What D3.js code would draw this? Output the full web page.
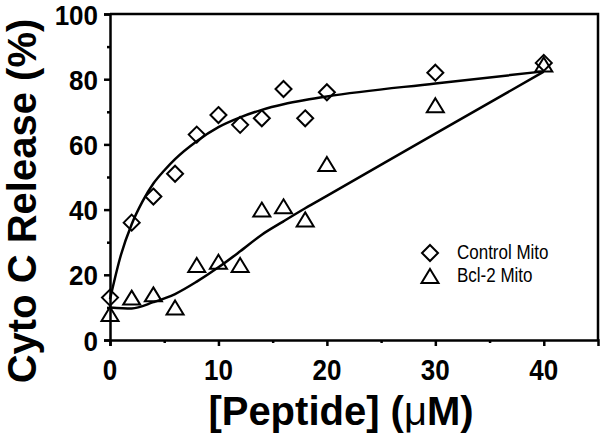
<!DOCTYPE html>
<html><head><meta charset="utf-8">
<script src="https://cdn.jsdelivr.net/npm/d3@7"></script>
<style>body{margin:0;background:#fff}</style>
</head><body>
<svg id="c" width="600" height="439"></svg>
<script>
// Data
const concentrations = [0, 2, 4, 6, 8, 10, 12, 14, 16, 18, 20, 30, 40];
const controlRelease = [13, 36, 44, 51, 63, 69, 66, 68, 77, 68, 76, 82, 85];
const bcl2Release = [8, 13, 14, 10, 23, 24, 23, 40, 41, 37, 54, 72, 84.5];
const controlFitX = [0, 1, 2, 3, 4, 5, 6, 8, 10, 12, 14, 16, 18, 20, 30, 40];
const controlFitY = [12.5, 26, 35.5, 42.5, 48, 52, 55.5, 61, 65.3, 68.3, 70.6, 72.3, 73.6, 74.7, 78.7, 82.4];
const bcl2FitX = [0, 2, 4, 6, 8, 10, 12, 14, 16, 18, 20, 30, 40];
const bcl2FitY = [10, 9.7, 11.6, 14.1, 17.9, 22.3, 27.2, 32.3, 36.4, 40.4, 44.2, 63.3, 82.3];
const xTicks = [0, 10, 20, 30, 40];
const xMinor = [5, 15, 25, 35];
const yTicks = [0, 20, 40, 60, 80, 100];
const yMinor = [10, 30, 50, 70, 90];
const seriesNames = ["Control Mito", "Bcl-2 Mito"];

const svg = d3.select("#c");
const x = d3.scaleLinear().domain([0, 45]).range([110, 598]);
const y = d3.scaleLinear().domain([0, 100]).range([340, 14]);
const bold = "'Liberation Sans', Arial, sans-serif";

// frame
svg.append("path")
  .attr("d", `M${x(0)},${y(100)}H${x(45)}V${y(0)}`)
  .attr("fill", "none").attr("stroke", "#000").attr("stroke-width", 2.5);

// axes
const xAxis = svg.append("g").attr("transform", `translate(0,${y(0)})`)
  .call(d3.axisBottom(x).tickValues(xTicks).tickSize(6).tickFormat(""));
const xAxisMinor = svg.append("g").attr("transform", `translate(0,${y(0)})`)
  .call(d3.axisBottom(x).tickValues(xMinor).tickSize(3).tickFormat(""));
const yAxis = svg.append("g").attr("transform", `translate(${x(0)},0)`)
  .call(d3.axisLeft(y).tickValues(yTicks).tickSize(6).tickFormat(""));
const yAxisMinor = svg.append("g").attr("transform", `translate(${x(0)},0)`)
  .call(d3.axisLeft(y).tickValues(yMinor).tickSize(3).tickFormat(""));
[xAxis, xAxisMinor, yAxis, yAxisMinor].forEach(g => {
  g.selectAll("path.domain").attr("stroke", "#000").attr("stroke-width", 2.5);
  g.selectAll(".tick line").attr("stroke", "#000").attr("stroke-width", 2.5);
});
xAxisMinor.select("path.domain").remove();
yAxisMinor.select("path.domain").remove();

// tick labels (stretched bold)
xTicks.forEach(v => {
  svg.append("text")
    .attr("transform", `translate(${x(v)},${y(0) + 40}) scale(1,1.1)`)
    .attr("text-anchor", "middle")
    .attr("font-family", bold).attr("font-weight", "bold").attr("font-size", 26)
    .text(v);
});
yTicks.forEach(v => {
  svg.append("text")
    .attr("transform", `translate(${x(0) - 12},${y(v) + 10.5}) scale(1,1.06)`)
    .attr("text-anchor", "end")
    .attr("font-family", bold).attr("font-weight", "bold").attr("font-size", 26)
    .text(v);
});

// axis titles
svg.append("text")
  .attr("x", 341).attr("y", 425)
  .attr("text-anchor", "middle")
  .attr("font-family", bold).attr("font-weight", "bold").attr("font-size", 40)
  .html("[Peptide] (<tspan font-weight='normal'>μ</tspan>M)");
svg.append("text")
  .attr("transform", `translate(36,201) rotate(-90)`)
  .attr("text-anchor", "middle")
  .attr("font-family", bold).attr("font-weight", "bold").attr("font-size", 40)
  .text("Cyto C Release (%)");

// fit curves
const line = d3.line().x(d => x(d[0])).y(d => y(d[1])).curve(d3.curveMonotoneX);
svg.append("path").datum(d3.zip(controlFitX, controlFitY))
  .attr("d", line).attr("fill", "none").attr("stroke", "#000").attr("stroke-width", 2.5);
svg.append("path").datum(d3.zip(bcl2FitX, bcl2FitY))
  .attr("d", line).attr("fill", "none").attr("stroke", "#000").attr("stroke-width", 2.5);

// markers
const diamond = "M0,-8L8,0L0,8L-8,0Z";
const triangle = "M0,-7L8.5,7L-8.5,7Z";
function markers(vals, shape) {
  svg.append("g").selectAll("path").data(d3.zip(concentrations, vals)).join("path")
    .attr("transform", d => `translate(${x(d[0])},${y(d[1])})`)
    .attr("d", shape).attr("fill", "none").attr("stroke", "#000").attr("stroke-width", 2)
    .attr("stroke-linejoin", "miter");
}
markers(controlRelease, diamond);
markers(bcl2Release, triangle);

// legend
const leg = [[diamond, seriesNames[0], 253], [triangle, seriesNames[1], 276]];
leg.forEach(([shape, name, ly]) => {
  svg.append("path").attr("transform", `translate(430,${ly})`).attr("d", shape)
    .attr("fill", "none").attr("stroke", "#000").attr("stroke-width", 2);
  svg.append("text").attr("transform", `translate(457,${ly + 6}) scale(1,1.15)`)
    .attr("font-family", bold).attr("font-size", 17).text(name);
});
</script>
</body></html>
